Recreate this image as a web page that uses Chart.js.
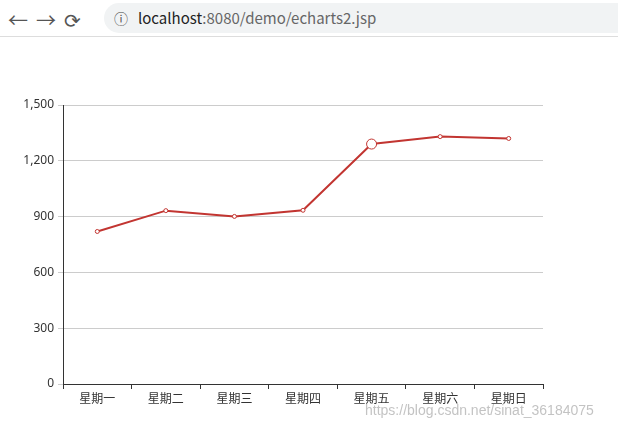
<!DOCTYPE html>
<html>
<head>
<meta charset="utf-8">
<script src="https://cdn.jsdelivr.net/npm/chart.js@4/dist/chart.umd.min.js"></script>
<style>
  body { margin: 0; width: 618px; height: 430px; overflow: hidden; background: #fff; font-family: "Noto Sans CJK SC", "Noto Sans", sans-serif; position: relative; }
  #bar { position: absolute; left: 0; top: 0; width: 618px; height: 36px; border-bottom: 1px solid #ddd; }
  #nav { position: absolute; left: 8px; top: 5px; font-size: 20px; color: #555; letter-spacing: 8px; }
  #url { position: absolute; left: 104px; top: 3px; width: 530px; height: 30px; border-radius: 15px; background: #f1f3f4; font-size: 15px; line-height: 30px; color: #222; }
  #url span.host { margin-left: 34px; }
  #url span.path { color: #666; }
  #info { position: absolute; left: 10px; top: 0; font-size: 14px; color: #555; }
  #wrap { position: absolute; left: 0; top: 40px; width: 618px; height: 390px; }
  #mark { position: absolute; left: 365px; top: 402px; font-size: 14px; color: rgba(180,180,180,0.8); font-family: "Liberation Sans", sans-serif; }
</style>
</head>
<body>
<div id="bar">
  <div id="nav">←→⟳</div>
  <div id="url"><span id="info">ⓘ</span><span class="host">localhost</span><span class="path">:8080/demo/echarts2.jsp</span></div>
</div>
<div id="wrap"><canvas id="chart"></canvas></div>
<div id="mark">https://blog.csdn.net/sinat_36184075</div>
<script>
// 曜日と値
const days = ["星期一", "星期二", "星期三", "星期四", "星期五", "星期六", "星期日"];
const values = [820, 932, 901, 934, 1290, 1330, 1320];
const yTicks = [0, 300, 600, 900, 1200, 1500];

const pointSizes = days.map((d, i) => i === 4 ? 5 : 2); // 星期五はホバー状態

new Chart(document.getElementById("chart"), {
  type: "line",
  data: {
    labels: days,
    datasets: [{
      data: values,
      borderColor: "#c23531",
      borderWidth: 2,
      backgroundColor: "#fff",
      pointBorderColor: "#c23531",
      pointBorderWidth: 1,
      pointRadius: pointSizes,
      tension: 0
    }]
  },
  options: {
    responsive: true,
    maintainAspectRatio: false,
    animation: false,
    layout: { padding: { left: 0, right: 75, top: 65, bottom: 0 } },
    plugins: { legend: { display: false }, tooltip: { enabled: false } },
    scales: {
      x: {
        offset: true,
        grid: { display: true, drawOnChartArea: false, offset: true, tickLength: 5, color: "#333" },
        border: { color: "#333" },
        ticks: { color: "#333", font: { size: 12, family: "Noto Sans CJK SC" }, padding: 2 },
        afterFit: scale => { scale.height = 46; }
      },
      y: {
        min: 0,
        max: 1500,
        afterBuildTicks: scale => { scale.ticks = yTicks.map(v => ({ value: v })); },
        grid: { color: "#ccc", tickLength: 5 },
        border: { color: "#333" },
        ticks: { color: "#333", font: { size: 12, family: "Noto Sans" }, padding: 4 },
        afterFit: scale => { scale.width = 63; }
      }
    }
  }
});
</script>
</body>
</html>
